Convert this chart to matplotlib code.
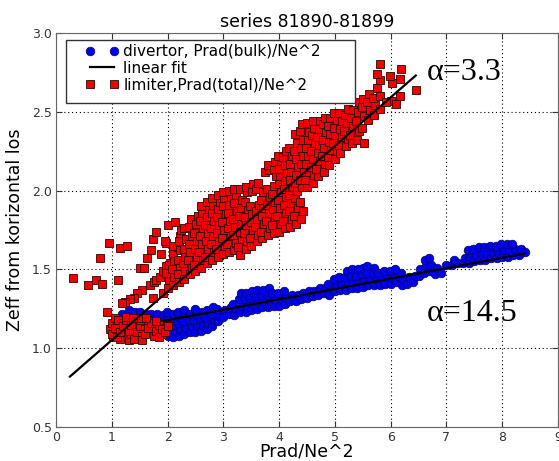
import matplotlib
matplotlib.use('Agg')
import matplotlib.pyplot as plt
from matplotlib.patches import Rectangle

# values
# divertor, Prad(bulk)/Ne^2  (blue circles)
div_x = [1.20, 1.23, 1.18,
         1.30, 1.33, 1.28, 1.31,
         1.40, 1.43, 1.38, 1.41,
         1.50, 1.53, 1.48, 1.51,
         1.60, 1.63, 1.58, 1.61,
         1.70, 1.73, 1.68, 1.71,
         1.80, 1.83, 1.78, 1.81,
         1.90, 1.93, 1.88, 1.91,
         2.00, 2.03, 1.98, 2.01, 1.99,
         2.10, 2.13, 2.08, 2.11, 2.09,
         2.20, 2.23, 2.18, 2.21, 2.19,
         2.30, 2.33, 2.28, 2.31, 2.29,
         2.40, 2.43, 2.38, 2.41,
         2.50, 2.53, 2.48, 2.51, 2.49,
         2.60, 2.63, 2.58, 2.61,
         2.70, 2.73, 2.68, 2.71,
         2.80, 2.83, 2.78, 2.81,
         2.90, 2.93, 2.88,
         3.00, 3.03,
         3.10, 3.13,
         3.20, 3.23, 3.18,
         3.30, 3.33, 3.28, 3.31,
         3.40, 3.43, 3.38, 3.41,
         3.50, 3.53, 3.48, 3.51,
         3.60, 3.63, 3.58, 3.61,
         3.70, 3.73, 3.68, 3.71,
         3.80, 3.83, 3.78, 3.81,
         3.90, 3.93, 3.88,
         4.00, 4.03, 3.98,
         4.10, 4.13, 4.08,
         4.20, 4.23,
         4.30, 4.33,
         4.40, 4.43,
         4.50, 4.53,
         4.60, 4.63,
         4.70, 4.73,
         4.80, 4.83,
         4.90, 4.93, 4.88,
         5.00, 5.03, 4.98,
         5.10, 5.13, 5.08,
         5.20, 5.23, 5.18, 5.21,
         5.30, 5.33, 5.28, 5.31,
         5.40, 5.43, 5.38, 5.41,
         5.50, 5.53, 5.48, 5.51,
         5.60, 5.63, 5.58, 5.57,
         5.70, 5.73, 5.68, 5.71,
         5.80, 5.83, 5.78,
         5.90, 5.93, 5.88,
         6.00, 6.03, 5.98,
         6.10, 6.13, 6.08,
         6.20, 6.23, 6.18,
         6.30, 6.33,
         6.40, 6.43,
         6.50, 6.53,
         6.60, 6.63, 6.62,
         6.70, 6.73, 6.68,
         6.80, 6.83,
         6.90,
         7.00,
         7.10, 7.13,
         7.20,
         7.30, 7.33,
         7.40, 7.43, 7.38,
         7.50, 7.53, 7.48,
         7.60, 7.63, 7.58,
         7.70, 7.73, 7.68,
         7.80, 7.83, 7.78,
         7.90, 7.93, 7.88,
         8.00, 8.03, 7.98,
         8.10, 8.13, 8.08,
         8.20, 8.23, 8.18,
         8.30, 8.33,
         8.40]
div_y = [1.14, 1.18, 1.22,
         1.12, 1.16, 1.20, 1.24,
         1.11, 1.15, 1.19, 1.23,
         1.11, 1.15, 1.19, 1.23,
         1.10, 1.14, 1.18, 1.22,
         1.10, 1.14, 1.18, 1.22,
         1.10, 1.14, 1.18, 1.22,
         1.09, 1.13, 1.17, 1.21,
         1.08, 1.12, 1.16, 1.20, 1.23,
         1.07, 1.11, 1.15, 1.19, 1.22,
         1.08, 1.12, 1.16, 1.20, 1.23,
         1.09, 1.13, 1.17, 1.21, 1.24,
         1.10, 1.14, 1.18, 1.22,
         1.10, 1.14, 1.18, 1.22, 1.25,
         1.11, 1.15, 1.19, 1.23,
         1.12, 1.16, 1.20, 1.24,
         1.14, 1.18, 1.22, 1.26,
         1.17, 1.21, 1.25,
         1.20, 1.24,
         1.22, 1.26,
         1.21, 1.25, 1.28,
         1.23, 1.27, 1.31, 1.35,
         1.23, 1.27, 1.31, 1.35,
         1.24, 1.28, 1.32, 1.36,
         1.25, 1.29, 1.33, 1.37,
         1.26, 1.30, 1.34, 1.37,
         1.26, 1.30, 1.34, 1.38,
         1.27, 1.31, 1.35,
         1.27, 1.31, 1.35,
         1.28, 1.32, 1.36,
         1.30, 1.34,
         1.30, 1.34,
         1.31, 1.35,
         1.32, 1.36,
         1.33, 1.36,
         1.34, 1.38,
         1.35, 1.38,
         1.34, 1.38, 1.41,
         1.36, 1.40, 1.44,
         1.37, 1.41, 1.45,
         1.37, 1.41, 1.45, 1.49,
         1.38, 1.42, 1.46, 1.50,
         1.38, 1.42, 1.46, 1.50,
         1.39, 1.43, 1.47, 1.51,
         1.40, 1.44, 1.48, 1.52,
         1.40, 1.44, 1.48, 1.51,
         1.40, 1.44, 1.48,
         1.41, 1.45, 1.49,
         1.41, 1.45, 1.49,
         1.42, 1.46, 1.50,
         1.40, 1.44, 1.48,
         1.41, 1.45,
         1.42, 1.46,
         1.46, 1.50,
         1.48, 1.52, 1.56,
         1.49, 1.53, 1.57,
         1.47, 1.51,
         1.48,
         1.53,
         1.53, 1.56,
         1.54,
         1.54, 1.57,
         1.54, 1.58, 1.62,
         1.55, 1.59, 1.63,
         1.56, 1.60, 1.64,
         1.56, 1.60, 1.64,
         1.57, 1.61, 1.65,
         1.57, 1.61, 1.65,
         1.58, 1.62, 1.66,
         1.58, 1.62, 1.66,
         1.59, 1.63, 1.66,
         1.59, 1.63,
         1.61]

# limiter, Prad(total)/Ne^2  (red squares)
lim_x = [0.31, 0.58, 0.72, 0.82, 0.78, 0.955, 1.15, 1.27, 1.12, 0.92,
         1.50, 1.57, 1.64, 1.71, 1.74, 1.79, 1.54, 1.45, 1.39, 1.33,
         1.24, 1.18, 1.68, 1.76, 1.80, 1.86, 1.92, 1.98, 2.01, 2.13,
         1.98, 2.04, 2.10, 2.19, 2.22, 1.89, 1.95, 1.92, 1.74,
         # low cluster
         0.97, 1.00, 1.02, 1.05, 1.08, 1.10, 1.12, 1.15, 1.18, 1.20,
         1.00, 1.05, 1.10, 1.15, 1.20, 1.25, 1.30, 1.35, 1.40, 1.45,
         1.30, 1.35, 1.40, 1.45, 1.50, 1.55, 1.60, 1.65, 1.70, 1.75,
         1.50, 1.55, 1.60, 1.65, 1.70, 1.75, 1.80, 1.85, 1.90, 1.95,
         1.80, 1.85, 1.90, 1.95, 2.00, 1.25, 1.38, 1.52, 1.62,
         # main band
         2.00, 2.03, 1.97, 2.02,
         2.10, 2.12, 2.08, 2.11, 2.09,
         2.20, 2.18, 2.22, 2.19, 2.23, 2.20, 2.24,
         2.30, 2.32, 2.28, 2.31, 2.29, 2.33, 2.30,
         2.40, 2.43, 2.37, 2.41, 2.38, 2.44, 2.39, 2.42,
         2.50, 2.47, 2.53, 2.49, 2.52, 2.48, 2.51, 2.54,
         2.60, 2.63, 2.57, 2.61, 2.58, 2.64, 2.59, 2.62, 2.60,
         2.70, 2.67, 2.73, 2.69, 2.72, 2.68, 2.71, 2.74, 2.70,
         2.80, 2.83, 2.77, 2.81, 2.78, 2.84, 2.79, 2.82, 2.80,
         2.90, 2.87, 2.93, 2.89, 2.92, 2.88, 2.91, 2.94, 2.90,
         3.00, 3.03, 2.97, 3.01, 2.98, 3.04, 2.99, 3.02, 3.00,
         3.10, 3.07, 3.13, 3.09, 3.12, 3.08, 3.11, 3.14, 3.10,
         3.20, 3.23, 3.17, 3.21, 3.18, 3.24, 3.19, 3.22, 3.20,
         3.30, 3.27, 3.33, 3.29, 3.32, 3.28, 3.31, 3.34, 3.30,
         3.40, 3.43, 3.37, 3.41, 3.38, 3.44, 3.39, 3.42, 3.40,
         3.50, 3.47, 3.53, 3.49, 3.52, 3.48, 3.51, 3.54,
         3.60, 3.63, 3.57, 3.61, 3.58, 3.64, 3.59, 3.62,
         3.70, 3.67, 3.73, 3.69, 3.72, 3.68, 3.71, 3.74,
         3.80, 3.83, 3.77, 3.81, 3.78, 3.84, 3.79, 3.82, 3.80,
         3.90, 3.87, 3.93, 3.89, 3.92, 3.88, 3.91, 3.94, 3.90, 3.93,
         4.00, 4.03, 3.97, 4.01, 3.98, 4.04, 3.99, 4.02, 4.00, 4.03, 3.98,
         4.10, 4.07, 4.13, 4.09, 4.12, 4.08, 4.11, 4.14, 4.10, 4.07, 4.12,
         4.20, 4.23, 4.17, 4.21, 4.18, 4.24, 4.19, 4.22, 4.20, 4.23, 4.18,
         4.30, 4.27, 4.33, 4.29, 4.32, 4.28, 4.31, 4.34, 4.30, 4.27, 4.32, 4.29,
         4.40, 4.43, 4.37, 4.41, 4.38, 4.44, 4.39, 4.42, 4.40, 4.43, 4.38, 4.41,
         4.50, 4.47, 4.53, 4.49, 4.52, 4.48, 4.51, 4.54, 4.50,
         4.60, 4.63, 4.57, 4.61, 4.58, 4.64, 4.59, 4.62, 4.60,
         4.70, 4.67, 4.73, 4.69, 4.72, 4.68, 4.71, 4.74,
         4.80, 4.83, 4.77, 4.81, 4.78, 4.84, 4.79, 4.82,
         4.90, 4.87, 4.93, 4.89, 4.92, 4.88, 4.91,
         5.00, 5.03, 4.97, 5.01, 4.98, 5.04, 4.99,
         5.10, 5.07, 5.13, 5.09, 5.12, 5.08,
         5.20, 5.23, 5.17, 5.21, 5.18, 5.24,
         5.30, 5.27, 5.33, 5.29, 5.32,
         5.40, 5.43, 5.37, 5.41, 5.44,
         5.52, 5.48, 5.53, 5.49, 5.51,
         5.60, 5.63, 5.58, 5.62,
         5.70, 5.72, 5.68,
         5.80, 5.81, 5.75, 5.81, 5.75, 5.81,
         6.00, 6.02, 5.99, 6.09, 6.16, 6.16, 6.18, 6.45, 5.92]
lim_y = [1.447, 1.40, 1.43, 1.405, 1.57, 1.665, 1.634, 1.65, 1.43, 1.23,
         1.51, 1.51, 1.57, 1.62, 1.69, 1.74, 1.37, 1.35, 1.32, 1.31,
         1.29, 1.285, 1.40, 1.42, 1.43, 1.45, 1.49, 1.665, 1.78, 1.80,
         1.52, 1.54, 1.60, 1.64, 1.71, 1.60, 1.68, 1.35, 1.32,
         # low cluster
         1.12, 1.16, 1.08, 1.19, 1.10, 1.14, 1.18, 1.06, 1.12, 1.16,
         1.09, 1.13, 1.07, 1.10, 1.14, 1.18, 1.05, 1.09, 1.13, 1.17,
         1.11, 1.15, 1.06, 1.10, 1.14, 1.08, 1.12, 1.17, 1.10, 1.14,
         1.18, 1.05, 1.09, 1.13, 1.16, 1.08, 1.11, 1.15, 1.09, 1.13,
         1.17, 1.07, 1.12, 1.10, 1.14, 1.20, 1.19, 1.19, 1.19,
         # main band
         1.38, 1.43, 1.48, 1.53,
         1.40, 1.45, 1.50, 1.55, 1.65,
         1.42, 1.47, 1.52, 1.56, 1.62, 1.68, 1.75,
         1.44, 1.49, 1.54, 1.58, 1.63, 1.69, 1.76,
         1.47, 1.51, 1.56, 1.61, 1.66, 1.71, 1.77, 1.82,
         1.49, 1.53, 1.58, 1.63, 1.68, 1.73, 1.79, 1.84,
         1.51, 1.56, 1.61, 1.66, 1.71, 1.76, 1.81, 1.86, 1.90,
         1.54, 1.58, 1.63, 1.68, 1.73, 1.78, 1.83, 1.88, 1.93,
         1.56, 1.61, 1.66, 1.71, 1.76, 1.81, 1.86, 1.91, 1.95,
         1.58, 1.63, 1.68, 1.73, 1.78, 1.83, 1.88, 1.93, 1.97,
         1.60, 1.65, 1.70, 1.75, 1.80, 1.85, 1.90, 1.95, 1.99,
         1.61, 1.66, 1.71, 1.76, 1.81, 1.86, 1.91, 1.96, 2.00,
         1.62, 1.67, 1.72, 1.77, 1.82, 1.87, 1.92, 1.97, 2.01,
         1.59, 1.64, 1.69, 1.74, 1.79, 1.84, 1.89, 1.94, 2.01,
         1.63, 1.68, 1.73, 1.78, 1.83, 1.88, 1.93, 1.99, 2.02,
         1.65, 1.70, 1.75, 1.80, 1.85, 1.90, 2.00, 2.04,
         1.68, 1.72, 1.77, 1.82, 1.87, 1.91, 2.01, 2.05,
         1.70, 1.74, 1.79, 1.84, 1.89, 1.94, 1.99, 2.12,
         1.72, 1.76, 1.81, 1.86, 1.91, 1.96, 2.01, 2.13, 2.16,
         1.73, 1.78, 1.83, 1.88, 1.93, 1.98, 2.03, 2.09, 2.14, 2.18,
         1.74, 1.79, 1.84, 1.89, 1.94, 1.99, 2.04, 2.09, 2.14, 2.19, 2.22,
         1.76, 1.81, 1.86, 1.91, 1.96, 2.01, 2.06, 2.11, 2.16, 2.21, 2.25,
         1.77, 1.82, 1.87, 1.92, 1.97, 2.02, 2.07, 2.12, 2.17, 2.22, 2.27,
         1.79, 1.84, 1.89, 1.95, 2.00, 2.05, 2.10, 2.15, 2.20, 2.25, 2.30, 2.36,
         1.82, 1.87, 1.93, 2.02, 2.07, 2.12, 2.17, 2.22, 2.27, 2.32, 2.38, 2.42,
         2.02, 2.07, 2.12, 2.17, 2.22, 2.27, 2.32, 2.37, 2.43,
         2.05, 2.10, 2.15, 2.20, 2.25, 2.30, 2.35, 2.40, 2.44,
         2.09, 2.14, 2.19, 2.24, 2.29, 2.34, 2.39, 2.44,
         2.12, 2.17, 2.22, 2.27, 2.32, 2.37, 2.42, 2.46,
         2.16, 2.21, 2.26, 2.31, 2.36, 2.41, 2.46,
         2.20, 2.25, 2.30, 2.35, 2.40, 2.45, 2.49,
         2.24, 2.29, 2.34, 2.39, 2.44, 2.49,
         2.28, 2.33, 2.38, 2.43, 2.48, 2.52,
         2.30, 2.35, 2.41, 2.46, 2.51,
         2.32, 2.38, 2.44, 2.50, 2.56,
         2.30, 2.40, 2.47, 2.53, 2.58,
         2.45, 2.51, 2.56, 2.61,
         2.48, 2.54, 2.59,
         2.52, 2.60, 2.65, 2.70, 2.74, 2.80,
         2.57, 2.68, 2.73, 2.55, 2.60, 2.71, 2.77, 2.64, 2.56]

# fitted lines (end points)
div_fit_x = [1.2, 8.4]
div_fit_y = [1.125, 1.60]
lim_fit_x = [0.25, 6.45]
lim_fit_y = [0.82, 2.73]

fig = plt.figure(figsize=(5.59, 4.61), dpi=100)
ax = fig.add_axes([0.1002, 0.0738, 0.898, 0.8547])

ax.plot(div_x, div_y, 'o', color='#0000ee', mec='#000066', mew=0.5, ms=6.2,
        label='divertor, Prad(bulk)/Ne^2')
ax.plot(div_fit_x, div_fit_y, '-', color='k', lw=1.6, label='linear fit')
ax.plot(lim_x, lim_y, 's', color='#ee0000', mec='#330000', mew=0.6, ms=5.8,
        label='limiter,Prad(total)/Ne^2')
ax.plot(lim_fit_x, lim_fit_y, '-', color='k', lw=1.6)

ax.text(6.65, 2.75, u'\u03b1=3.3', family='Liberation Serif', fontsize=23,
        ha='left', va='center')
ax.text(6.65, 1.22, u'\u03b1=14.5', family='Liberation Serif', fontsize=23,
        ha='left', va='center')

ax.set_xlim(0, 9)
ax.set_ylim(0.5, 3.0)
ax.set_xticks(range(0, 10))
ax.set_yticks([0.5, 1.0, 1.5, 2.0, 2.5, 3.0])
ax.grid(True, linestyle=(0, (1, 2.5)), color='k', lw=0.8)
ax.tick_params(direction='in', top=True, right=True, length=4,
               labelsize=9, colors='#333333', pad=3)
for s in ax.spines.values():
    s.set_color('#666666')

ax.set_title('series 81890-81899', fontsize=12.5, pad=4)
ax.set_xlabel('Prad/Ne^2', fontsize=12.5, labelpad=-1)
ax.set_ylabel('Zeff from korizontal los', fontsize=12.5, labelpad=6)

# legend box drawn separately (old style with wide side margins)
ax.add_patch(Rectangle((0.020, 0.822), 0.576, 0.160, transform=ax.transAxes,
                       facecolor='white', edgecolor='#333333', lw=1.0,
                       zorder=4))
leg = ax.legend(loc='upper left', bbox_to_anchor=(0.058, 0.972), borderaxespad=0,
                numpoints=2, fontsize=11, frameon=False, handlelength=2.2,
                handletextpad=0.3, labelspacing=0.12, borderpad=0)
leg.set_zorder(5)

fig.savefig('out.png', dpi=100)
